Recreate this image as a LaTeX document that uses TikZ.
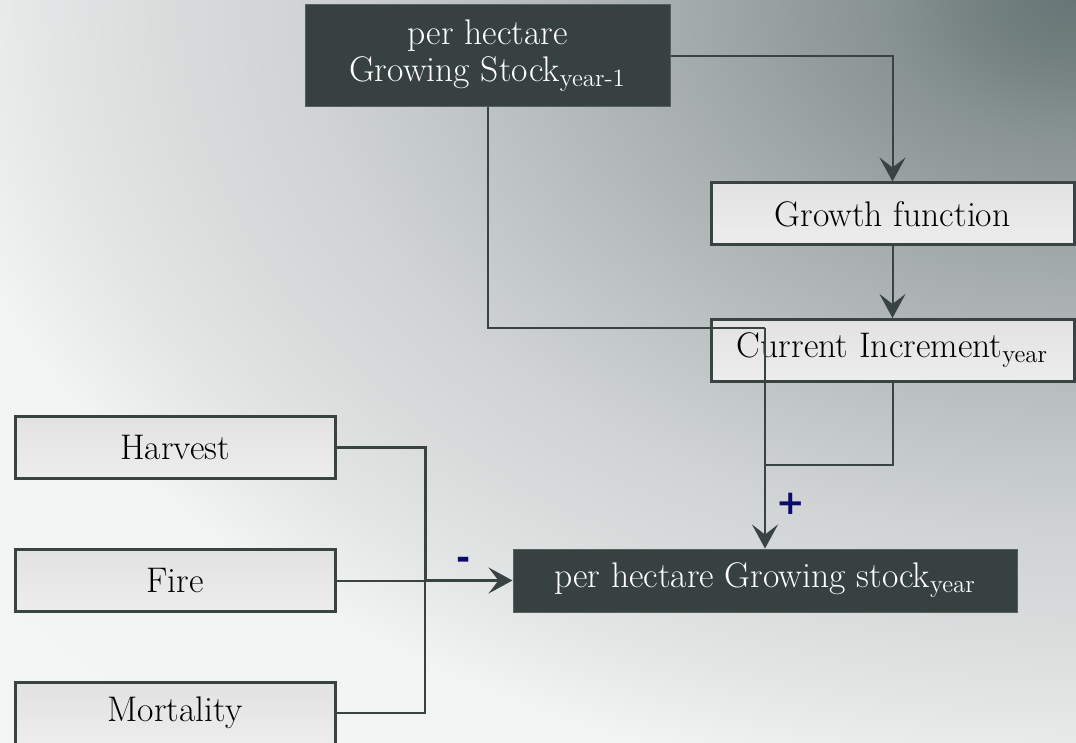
\documentclass[tikz,border=0pt]{standalone}
\usepackage{fontspec}
\usepackage{tikz}
\usetikzlibrary{arrows.meta}

\newfontfamily\signfont{DejaVu Sans}

\definecolor{boxdark}{HTML}{364140}
\definecolor{boxedge}{HTML}{56605F}
\definecolor{linedark}{HTML}{384342}
\definecolor{boxtop}{HTML}{E2E2E2}
\definecolor{boxbot}{HTML}{EDEDED}
\definecolor{signblue}{HTML}{0B0B6C}

% slide background, dark in the upper right corner
% (100bp = one slide width across, one slide height down)
\pgfdeclareradialshading{slidebg}{\pgfpoint{0bp}{0bp}}{%
  rgb(0bp)=(0.40,0.46,0.46);
  rgb(8bp)=(0.45,0.50,0.50);
  rgb(19bp)=(0.54,0.58,0.58);
  rgb(40bp)=(0.665,0.69,0.69);
  rgb(56bp)=(0.74,0.76,0.76);
  rgb(72bp)=(0.815,0.83,0.83);
  rgb(85bp)=(0.855,0.865,0.865);
  rgb(95bp)=(0.89,0.90,0.90);
  rgb(108bp)=(0.953,0.957,0.957);
  rgb(150bp)=(0.957,0.961,0.961)}

\begin{document}
\begin{tikzpicture}[x=0.5pt,y=-0.5pt,
  lightbox/.style={draw=linedark, line width=1.5pt, top color=boxtop, bottom color=boxbot,
    inner sep=0pt, minimum width=160pt, minimum height=31pt,
    font=\fontsize{17.8}{20}\selectfont},
  darkbox/.style={draw=boxedge, line width=0.5pt, fill=boxdark, text=white,
    inner sep=0pt, align=center, font=\fontsize{17.8}{18.5}\selectfont},
  link/.style={draw=linedark, line width=1pt},
  flowarrow/.style={-{Stealth[length=12pt,width=13pt,inset=5pt]}},
  sign/.style={text=signblue, font=\signfont\bfseries\fontsize{17}{17}\selectfont}]

  % background
  \useasboundingbox (0,0) rectangle (1076,743);
  \begin{scope}
    \clip (0,0) rectangle (1076,743);
    \pgflowlevelscope{\pgftransformcm{5.38}{0}{0}{3.715}{\pgfpoint{538pt}{0pt}}}
      \pgfuseshading{slidebg}
    \endpgflowlevelscope
  \end{scope}

  % stock of the previous year
  \node[darkbox, minimum width=182.5pt, minimum height=51pt] (gs0) at (487.5,56)
    {per hectare\\Growing Stock\textsubscript{year-1}};

  % growth part
  \node[lightbox, minimum width=181.5pt] (growth) at (892.5,214) {Growth function};
  \node[lightbox, minimum width=181.5pt] (incr) at (892.5,350.5) {Current Increment\textsubscript{year}};

  % losses
  \node[lightbox] (harvest) at (175,447) {Harvest};
  \node[lightbox] (fire) at (175,580.5) {Fire};
  \node[lightbox] (mort) at (175,713) {Mortality};

  % stock of this year
  \node[darkbox, minimum width=252pt, minimum height=31.5pt] (gs1) at (765,580.5)
    {per hectare Growing stock\textsubscript{year}};

  % junctions
  \coordinate (j1) at (765,328);
  \coordinate (j2) at (765,465);
  \coordinate (j3) at (425,580.5);

  \draw[link,flowarrow] (gs0.east) -| (growth.north);
  \draw[link,flowarrow] (growth.south) -- (incr.north);
  \draw[link] (gs0.south) |- (j1);
  \draw[link,flowarrow] (j1) -- (gs1.north);
  \draw[link] (incr.south) |- (j2);

  \draw[link,line width=1.5pt] (harvest.east) -| (j3);
  \draw[link] (fire.east) -- (j3);
  \draw[link] (mort.east) -| (j3);
  \draw[link,line width=1.5pt,flowarrow] (j3) -- (gs1.west);

  % signs
  \node[sign] (plus) at (791,504) {+};
  \node[sign] (minus) at (464,563) {-};
\end{tikzpicture}
\end{document}
